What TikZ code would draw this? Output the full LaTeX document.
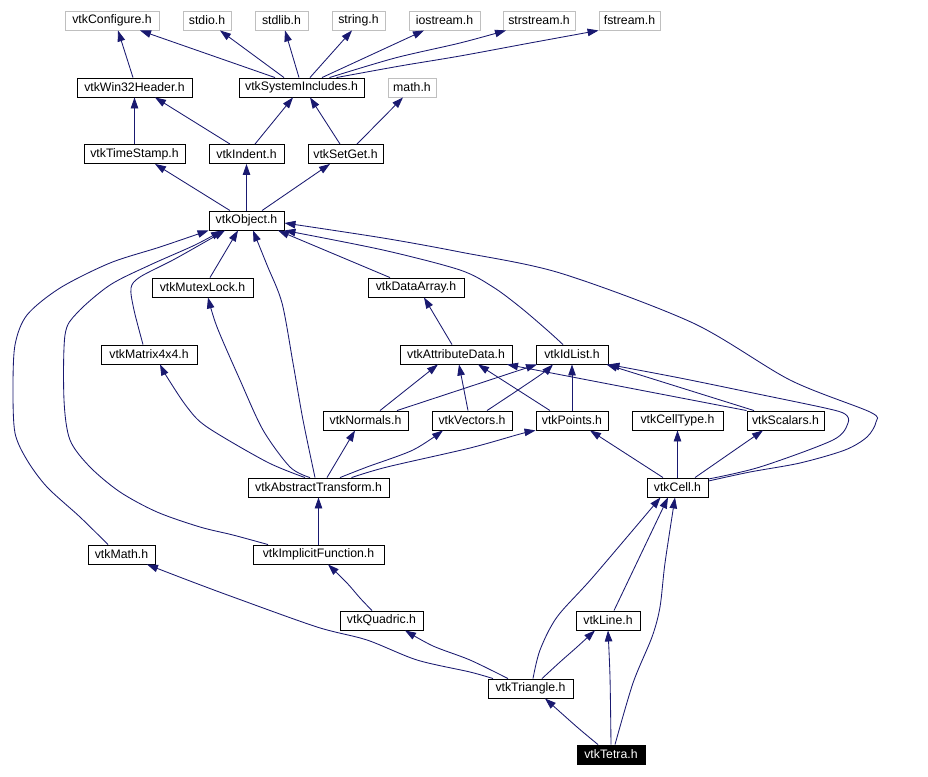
\documentclass[tikz,border=0pt]{standalone}
\usepackage{fontspec}
\setmainfont{Liberation Sans}
\usetikzlibrary{arrows.meta}
\definecolor{navyc}{HTML}{191970}
\definecolor{gborder}{HTML}{BFBFBF}
\begin{document}
\begin{tikzpicture}[x=1pt,y=-1pt,
  box/.style={draw=black, line width=0.9pt, fill=white, inner sep=0pt, minimum height=19pt, font=\fontsize{12.3}{14}\selectfont},
  gbox/.style={box, draw=gborder},
  tbox/.style={box, fill=black, text=white},
  dep/.style={draw=navyc, line width=0.85pt, -{Triangle[length=11pt,width=7.5pt]}}]
\useasboundingbox[fill=white] (0,0) rectangle (928,776);
% nodes
\node[gbox, minimum width=94pt] (cfg) at (112,20.5) {vtkConfigure.h};
\node[gbox, minimum width=48pt] (stdio) at (207,20.5) {stdio.h};
\node[gbox, minimum width=53pt] (stdlib) at (281.5,20.5) {stdlib.h};
\node[gbox, minimum width=53pt] (string) at (358.5,20.5) {string.h};
\node[gbox, minimum width=71pt] (iostream) at (444.5,20.5) {iostream.h};
\node[gbox, minimum width=72pt] (strstream) at (539,20.5) {strstream.h};
\node[gbox, minimum width=61pt] (fstream) at (629.5,20.5) {fstream.h};
\node[box, minimum width=115pt] (win) at (134.5,87.5) {vtkWin32Header.h};
\node[box, minimum width=125pt] (sys) at (301.5,87.5) {vtkSystemIncludes.h};
\node[gbox, minimum width=48pt] (mathh) at (412,87.5) {math.h};
\node[box, minimum width=101pt] (ts) at (134.5,154) {vtkTimeStamp.h};
\node[box, minimum width=75pt] (ind) at (246.5,154) {vtkIndent.h};
\node[box, minimum width=75pt] (sg) at (345.5,154) {vtkSetGet.h};
\node[box, minimum width=75pt] (obj) at (246.5,220.5) {vtkObject.h};
\node[box, minimum width=101pt] (ml) at (202.5,287.5) {vtkMutexLock.h};
\node[box, minimum width=96pt] (da) at (416,287.5) {vtkDataArray.h};
\node[box, minimum width=96pt] (mat) at (149,354.5) {vtkMatrix4x4.h};
\node[box, minimum width=112pt] (ad) at (456,354.5) {vtkAttributeData.h};
\node[box, minimum width=72pt] (idl) at (572,354.5) {vtkIdList.h};
\node[box, minimum width=85pt] (nor) at (365.5,420.5) {vtkNormals.h};
\node[box, minimum width=80pt] (vec) at (472,420.5) {vtkVectors.h};
\node[box, minimum width=72pt] (pts) at (572,420.5) {vtkPoints.h};
\node[box, minimum width=91pt] (ct) at (677.5,420.5) {vtkCellType.h};
\node[box, minimum width=77pt] (sc) at (785.5,420.5) {vtkScalars.h};
\node[box, minimum width=141pt] (at) at (318.5,487.5) {vtkAbstractTransform.h};
\node[box, minimum width=61pt] (cell) at (677.5,487.5) {vtkCell.h};
\node[box, minimum width=67pt] (vm) at (121.5,554.5) {vtkMath.h};
\node[box, minimum width=131pt] (imf) at (318.5,554.5) {vtkImplicitFunction.h};
\node[box, minimum width=83pt] (quad) at (381.5,620.5) {vtkQuadric.h};
\node[box, minimum width=64pt] (line) at (608,620.5) {vtkLine.h};
\node[box, minimum width=85pt] (tri) at (530.5,688.5) {vtkTriangle.h};
\node[tbox, minimum width=68pt] (tet) at (611,754.5) {vtkTetra.h};
% edges: top
\draw[dep] ([xshift=-1.5pt]win.north) -- ([xshift=6pt]cfg.south);
\draw[dep] ([xshift=-26.5pt]sys.north) -- ([xshift=28pt]cfg.south);
\draw[dep] ([xshift=-17.5pt]sys.north) -- ([xshift=13pt]stdio.south);
\draw[dep] ([xshift=-2.5pt]sys.north) -- ([xshift=3.5pt]stdlib.south);
\draw[dep] ([xshift=8.5pt]sys.north) -- ([xshift=-6.5pt]string.south);
\draw[dep] ([xshift=20.5pt]sys.north) -- ([xshift=-20.5pt]iostream.south);
\draw[dep] plot[smooth] coordinates {([xshift=28pt]sys.north) (395,58) (460,43) ([xshift=-33pt]strstream.south)};
\draw[dep] plot[smooth] coordinates {([xshift=35pt]sys.north) (400,66) (460,56) (530,43) (fstream.south west)};
\draw[dep] (ts.north) -- (win.south);
\draw[dep] ([xshift=-16.5pt]ind.north) -- ([xshift=20.5pt]win.south);
\draw[dep] ([xshift=8.5pt]ind.north) -- ([xshift=-8.5pt]sys.south);
\draw[dep] ([xshift=-5.5pt]sg.north) -- ([xshift=8.5pt]sys.south);
\draw[dep] ([xshift=11.5pt]sg.north) -- ([xshift=-9pt]mathh.south);
\draw[dep] ([xshift=-16.5pt]obj.north) -- ([xshift=20.5pt]ts.south);
\draw[dep] (obj.north) -- (ind.south);
\draw[dep] ([xshift=15.5pt]obj.north) -- ([xshift=-15.5pt]sg.south);
% into vtkObject
\draw[dep] ([xshift=7.5pt]ml.north) -- ([xshift=-8.5pt]obj.south);
\draw[dep] ([xshift=-26pt]da.north) -- ([xshift=31.5pt]obj.south);
\draw[dep] plot[smooth] coordinates {([xshift=-3.5pt]at.north) (303,420) (293,363) (282,303) (267,265) ([xshift=6.5pt]obj.south)};
\draw[dep] plot[smooth] coordinates {([xshift=-6pt]mat.north) (134,310) (131,288) (140,277) (173,260) (205,242) ([xshift=-21.5pt]obj.south)};
\draw[dep] plot[smooth] coordinates {([xshift=-50.5pt]imf.north) (233,535) (200,527) (157,512) (120,492) (90,467) (70,440) (64,400) (65,335) (77,313) (110,285) (150,265) (195,245) ([xshift=-24.5pt]obj.south)};
\draw[dep] plot[smooth] coordinates {([xshift=-13.5pt]vm.north) (80,517) (47,487) (27,460) (15,433) (13,390) (15,345) (27,315) (60,288) (110,263) (160,247) (obj.south west)};
\draw[dep] plot[smooth] coordinates {([xshift=-9pt]idl.north) (547,330) (520,307) (493,287) (460,270) (383,250) (obj.south east)};
\draw[dep] plot[smooth] coordinates {([yshift=6.5pt]cell.east) (750,472) (800,463) (845,450) (867,437) (876,422) (870,412) (790,380) (693,323) (560,273) (460,252) (383,238) ([yshift=-2.5pt]obj.east)};
% middle
\draw[dep] plot[smooth] coordinates {([yshift=8.5pt]cell.east) (760,467) (833,440) (848,423) (845,414) (825,408) (753,393) (680,378) (idl.south east)};
\draw[dep] ([xshift=-4pt]ad.north) -- ([xshift=8pt]da.south);
\draw[dep] ([xshift=14.5pt]nor.north) -- ([xshift=-18pt]ad.south);
\draw[dep] ([xshift=-4pt]vec.north) -- ([xshift=3pt]ad.south);
\draw[dep] ([xshift=-22pt]pts.north) -- ([xshift=22pt]ad.south);
\draw[dep] (sc.north west) -- ([xshift=51pt]ad.south);
\draw[dep] ([xshift=31.5pt]nor.north) -- ([xshift=-35pt]idl.south);
\draw[dep] plot[smooth] coordinates {([xshift=15pt]vec.north) (515,392) (543,373) ([xshift=-19pt]idl.south)};
\draw[dep] (pts.north) -- (idl.south);
\draw[dep] ([xshift=-31.5pt]sc.north) -- ([xshift=-2pt]idl.south east);
\draw[dep] ([xshift=8.5pt]at.north) -- ([xshift=-10.5pt]nor.south);
\draw[dep] plot[smooth] coordinates {([xshift=21.5pt]at.north) (367,467) (413,450) ([xshift=-29pt]vec.south)};
\draw[dep] plot[smooth] coordinates {([xshift=33pt]at.north) (387,467) (470,448) (520,434) (pts.south west)};
\draw[dep] plot[smooth] coordinates {([xshift=-13.5pt]at.north) (267,462) (207,427) (187,407) (167,377) ([xshift=11pt]mat.south)};
\draw[dep] plot[smooth] coordinates {([xshift=-8.5pt]at.north) (290,467) (263,430) (240,380) (217,327) ([xshift=5.5pt]ml.south)};
\draw[dep] ([xshift=-14.5pt]cell.north) -- ([xshift=18pt]pts.south);
\draw[dep] (cell.north) -- (ct.south);
\draw[dep] ([xshift=17.5pt]cell.north) -- ([xshift=-22.5pt]sc.south);
% bottom
\draw[dep] (imf.north) -- (at.south);
\draw[dep] plot[smooth] coordinates {([xshift=-9.5pt]quad.north) (360,598) (347,583) ([xshift=9.5pt]imf.south)};
\draw[dep] plot[smooth] coordinates {([xshift=-22.5pt]tri.north) (470,660) (433,646) ([xshift=23.5pt]quad.south)};
\draw[dep] plot[smooth] coordinates {([xshift=-37.5pt]tri.north) (470,672) (417,660) (367,640) (317,627) (233,597) (190,581) ([xshift=25.5pt]vm.south)};
\draw[dep] plot[smooth] coordinates {([xshift=2.5pt]tri.north) (540,650) (557,617) (593,577) ([xshift=-17pt]cell.south)};
\draw[dep] plot[smooth] coordinates {([xshift=11.5pt]tri.north) (560,662) (577,647) ([xshift=-13pt]line.south)};
\draw[dep] ([xshift=6pt]line.north) -- ([xshift=-9.5pt]cell.south);
\draw[dep] plot[smooth] coordinates {([xshift=-13pt]tet.north) (577,727) ([xshift=14.5pt]tri.south)};
\draw[dep] plot[smooth] coordinates {(tet.north) (610,677) (line.south)};
\draw[dep] plot[smooth] coordinates {([xshift=4pt]tet.north) (633,683) (652,637) (660,607) (665,563) ([xshift=-2.5pt]cell.south)};
\end{tikzpicture}
\end{document}
